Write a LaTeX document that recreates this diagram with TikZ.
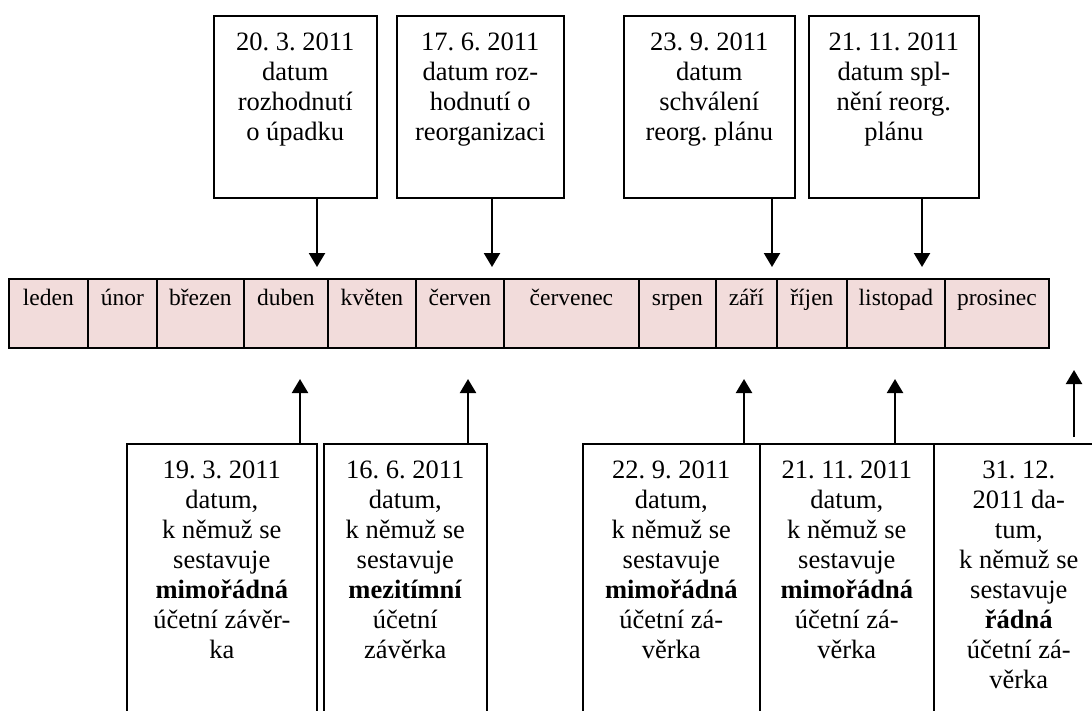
\documentclass[tikz,border=0pt]{standalone}
\usepackage{fontspec}
\setmainfont{Liberation Serif}
\usetikzlibrary{arrows.meta}

\definecolor{cellpink}{HTML}{F2DCDB}

% top-aligned, centred text block of fixed size: width, height, first-line height, text
\newcommand{\tlbox}[4]{\parbox[t][#2][t]{#1}{\centering\frenchspacing\rule{0pt}{#3}#4}}
\newcommand{\monthtext}[2]{\tlbox{#1}{69pt}{27pt}{\fontsize{23.5}{27}\selectfont #2}}
\newcommand{\eventtext}[3]{\tlbox{#1}{#2}{35pt}{\fontsize{26.5}{30}\selectfont #3}}

\tikzset{
  month/.style={draw, line width=1.8pt, fill=cellpink, inner sep=0pt, anchor=north west},
  eventbox/.style={draw, line width=1.6pt, fill=white, inner sep=0pt, anchor=north west},
  arr/.style={line width=2.2pt, -{Triangle[width=16pt,length=14pt]}}
}

\begin{document}
\begin{tikzpicture}[x=1pt, y=-1pt]
\useasboundingbox (0,0) rectangle (1092,710);
\clip (0,0) rectangle (1092,710);

% months of the year
\node[month] (m1)  at (8,278)   {\monthtext{79pt}{leden}};
\node[month] (m2)  at (87,278)  {\monthtext{69pt}{únor}};
\node[month] (m3)  at (156,278) {\monthtext{87pt}{březen}};
\node[month] (m4)  at (243,278) {\monthtext{84pt}{duben}};
\node[month] (m5)  at (327,278) {\monthtext{88pt}{květen}};
\node[month] (m6)  at (415,278) {\monthtext{88pt}{červen}};
\node[month] (m7)  at (503,278) {\monthtext{135pt}{červenec}};
\node[month] (m8)  at (638,278) {\monthtext{77pt}{srpen}};
\node[month] (m9)  at (715,278) {\monthtext{61pt}{září}};
\node[month] (m10) at (776,278) {\monthtext{70pt}{říjen}};
\node[month] (m11) at (846,278) {\monthtext{98pt}{listopad}};
\node[month] (m12) at (944,278) {\monthtext{104pt}{prosinec}};

% decisions above the timeline
\node[eventbox] (t1) at (213,15) {\eventtext{163pt}{182pt}{20. 3. 2011\\datum\\rozhodnutí\\o úpadku}};
\node[eventbox] (t2) at (396,15) {\eventtext{167pt}{182pt}{17. 6. 2011\\datum roz-\\hodnutí o\\reorganizaci}};
\node[eventbox] (t3) at (623,15) {\eventtext{171pt}{182pt}{23. 9. 2011\\datum\\schválení\\reorg. plánu}};
\node[eventbox] (t4) at (808,15) {\eventtext{170pt}{182pt}{21. 11. 2011\\datum spl-\\nění reorg.\\plánu}};

\coordinate (a1) at (317,267);
\coordinate (a2) at (492,267);
\coordinate (a3) at (772,267);
\coordinate (a4) at (922,267);
\draw[arr] (t1.south -| a1) -- (a1);
\draw[arr] (t2.south -| a2) -- (a2);
\draw[arr] (t3.south -| a3) -- (a3);
\draw[arr] (t4.south -| a4) -- (a4);

% balance-sheet dates below the timeline
\node[eventbox] (b1) at (126,443) {\eventtext{190pt}{290pt}{19. 3. 2011\\datum,\\k němuž se\\sestavuje\\\textbf{mimořádná}\\účetní závěr-\\ka}};
\node[eventbox] (b2) at (323,443) {\eventtext{163pt}{290pt}{16. 6. 2011\\datum,\\k němuž se\\sestavuje\\\textbf{mezitímní}\\účetní\\závěrka}};
\node[eventbox] (b3) at (582,443) {\eventtext{177pt}{290pt}{22. 9. 2011\\datum,\\k němuž se\\sestavuje\\\textbf{mimořádná}\\účetní zá-\\věrka}};
\node[eventbox] (b4) at (759,443) {\eventtext{174pt}{290pt}{21. 11. 2011\\datum,\\k němuž se\\sestavuje\\\textbf{mimořádná}\\účetní zá-\\věrka}};
\node[eventbox] (b5) at (933,443) {\eventtext{170pt}{290pt}{31. 12.\\2011 da-\\tum,\\k němuž se\\sestavuje\\\textbf{řádná}\\účetní zá-\\věrka}};

\coordinate (u1) at (300,379);
\coordinate (u2) at (468,379);
\coordinate (u3) at (744,379);
\coordinate (u4) at (895,379);
\coordinate (u5s) at (1074,437);
\coordinate (u5) at (1074,370);
\draw[arr] (b1.north -| u1) -- (u1);
\draw[arr] (b2.north -| u2) -- (u2);
\draw[arr] (b3.north -| u3) -- (u3);
\draw[arr] (b4.north -| u4) -- (u4);
\draw[arr] (u5s) -- (u5);
\end{tikzpicture}
\end{document}
